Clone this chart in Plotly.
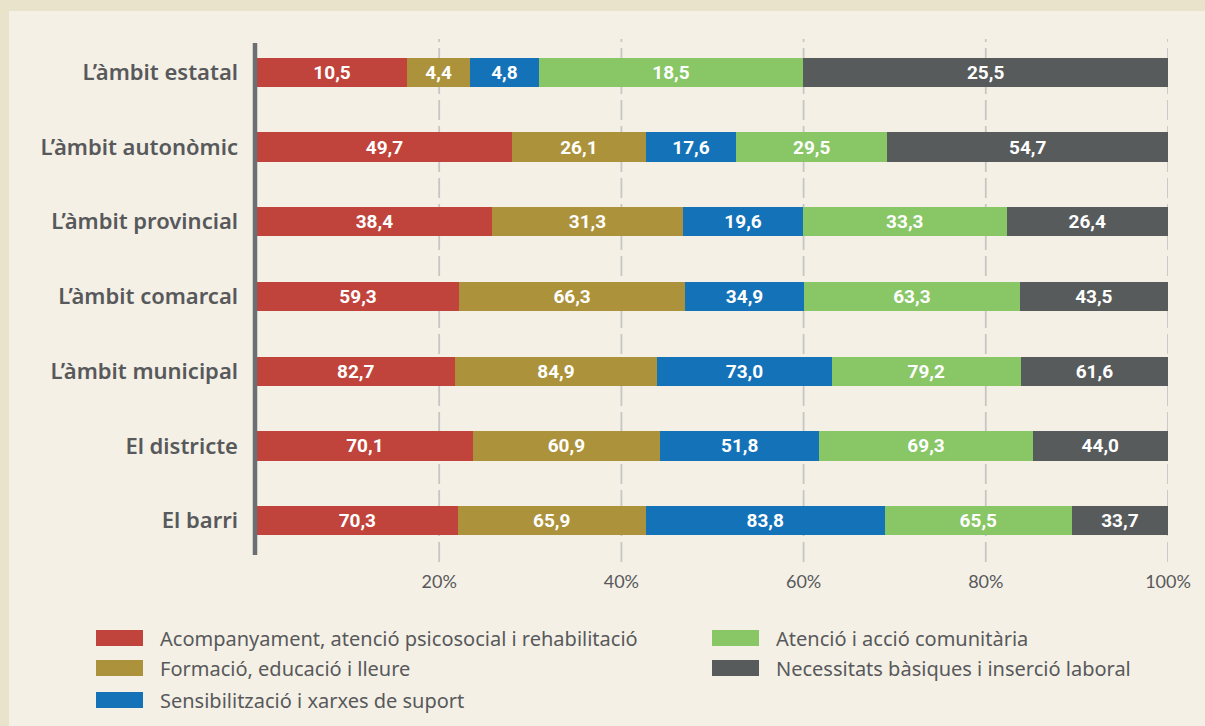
import plotly.graph_objects as go

# ---------------- data ----------------
categories = ["L’àmbit estatal", "L’àmbit autonòmic", "L’àmbit provincial",
              "L’àmbit comarcal", "L’àmbit municipal", "El districte", "El barri"]

series_names = ["Acompanyament, atenció psicosocial i rehabilitació",
                "Formació, educació i lleure",
                "Sensibilització i xarxes de suport",
                "Atenció i acció comunitària",
                "Necessitats bàsiques i inserció laboral"]

acompanyament = [10.5, 49.7, 38.4, 59.3, 82.7, 70.1, 70.3]
formacio = [4.4, 26.1, 31.3, 66.3, 84.9, 60.9, 65.9]
sensibilitzacio = [4.8, 17.6, 19.6, 34.9, 73.0, 51.8, 83.8]
atencio = [18.5, 29.5, 33.3, 63.3, 79.2, 69.3, 65.5]
necessitats = [25.5, 54.7, 26.4, 43.5, 61.6, 44.0, 33.7]

tick_values = [20, 40, 60, 80, 100]
tick_labels = ["20%", "40%", "60%", "80%", "100%"]

# ---------------- style ----------------
colors = ["#C0443C", "#AC923A", "#1472B8", "#88C666", "#575B5C"]
series_values = [acompanyament, formacio, sensibilitzacio, atencio, necessitats]

W, H = 1205, 726
ML, MR, MT, MB = 257, 37, 35, 168
PW = W - ML - MR
PH = H - MT - MB


def px_x(px):
    return (px - ML) / PW


def px_y(py):
    return (H - MB - py) / PH


fig = go.Figure()
for name, vals, col in zip(series_names, series_values, colors):
    fig.add_trace(go.Bar(
        y=categories, x=vals, name=name, orientation="h",
        marker=dict(color=col, line=dict(width=0)),
        text=[f"{v:.1f}".replace(".", ",") for v in vals],
        textposition="inside", insidetextanchor="middle", textangle=0,
        textfont=dict(family="Roboto", size=19, color="white", weight="bold"),
        showlegend=False, hoverinfo="skip",
    ))

shapes = []
# outer border strips
shapes.append(dict(type="rect", xref="paper", yref="paper",
                   x0=px_x(-5), x1=px_x(9), y0=px_y(H + 5), y1=px_y(-5),
                   fillcolor="#EAE3CC", line=dict(width=0), layer="below"))
shapes.append(dict(type="rect", xref="paper", yref="paper",
                   x0=px_x(-5), x1=px_x(W + 5), y0=px_y(11), y1=px_y(-5),
                   fillcolor="#EAE3CC", line=dict(width=0), layer="below"))
# dashed gridlines
for tv in tick_values:
    shapes.append(dict(type="line", xref="x", yref="paper",
                       x0=tv, x1=tv, y0=px_y(562), y1=px_y(39),
                       line=dict(color="#C6C6C6", width=1.8, dash="20px,6px"),
                       layer="below"))
# vertical axis line
shapes.append(dict(type="line", xref="paper", yref="paper",
                   x0=px_x(255), x1=px_x(255), y0=px_y(555), y1=px_y(43),
                   line=dict(color="#6D6E71", width=4.5), layer="above"))

# manual legend
legend_pos = [(96, 630), (96, 660), (96, 692), (712, 630), (712, 660)]
annotations = []
for (lx, ly), name, col in zip(legend_pos, series_names, colors):
    shapes.append(dict(type="rect", xref="paper", yref="paper",
                       x0=px_x(lx), x1=px_x(lx + 47), y0=px_y(ly + 16), y1=px_y(ly),
                       fillcolor=col, line=dict(width=0)))
    annotations.append(dict(xref="paper", yref="paper", x=px_x(lx + 62), y=px_y(ly + 8),
                            xanchor="left", yanchor="middle", showarrow=False,
                            text=name,
                            font=dict(family="Noto Sans", size=20, color="#58595B")))

fig.update_layout(
    width=W, height=H,
    margin=dict(l=ML, r=MR, t=MT, b=MB, pad=0),
    paper_bgcolor="#F4F0E6", plot_bgcolor="rgba(0,0,0,0)",
    barmode="stack", barnorm="percent", bargap=0.608,
    shapes=shapes, annotations=annotations,
    xaxis=dict(range=[0, 100], tickvals=tick_values, ticktext=tick_labels,
               showgrid=False, zeroline=False, showline=False, ticks="",
               tickfont=dict(family="Lato", size=18, color="#58595B"),
               ticklabelstandoff=11, fixedrange=True),
    yaxis=dict(categoryorder="array", categoryarray=categories, autorange="reversed",
               showgrid=False, zeroline=False, showline=False, ticks="",
               tickfont=dict(family="Noto Sans", size=22, color="#58595B", weight=600),
               ticklabelstandoff=18, fixedrange=True),
    uniformtext=dict(minsize=10, mode="show"),
)

fig.write_html(
    "out.html",
    config={"displayModeBar": False},
    post_script="document.body.style.margin='0';document.body.style.overflow='hidden';"
                "document.body.style.background='#F4F0E6';",
)
